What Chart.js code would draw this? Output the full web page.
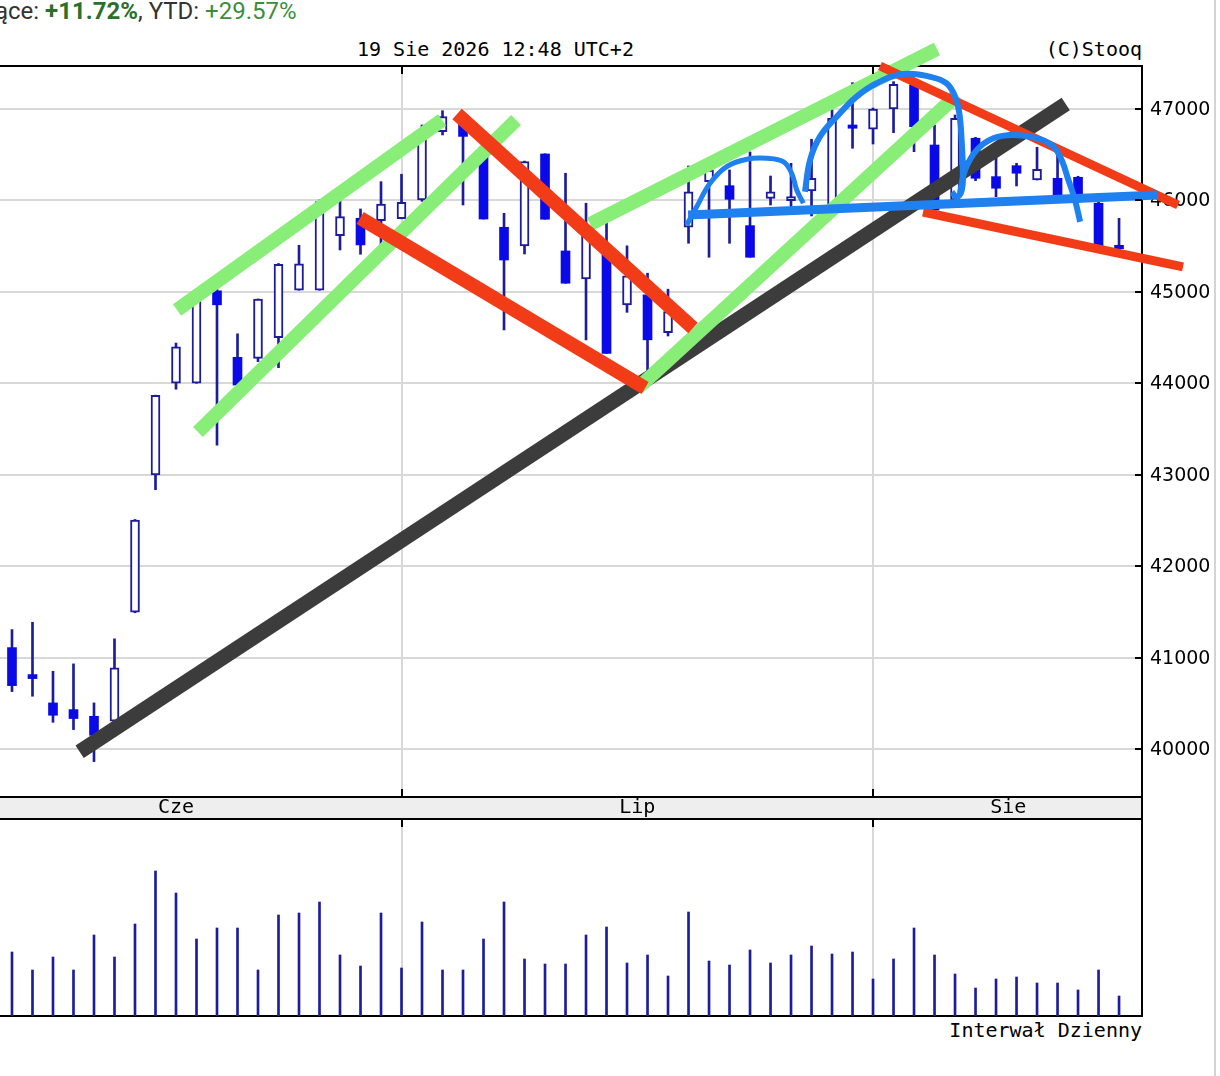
<!DOCTYPE html>
<html><head><meta charset="utf-8">
<script src="https://cdn.jsdelivr.net/npm/chart.js@4.4.1/dist/chart.umd.min.js"></script>
<style>
html,body{margin:0;padding:0;background:#fff;width:1220px;height:1076px;overflow:hidden;position:relative}
.t{position:absolute;white-space:nowrap}
.mono{font-family:"DejaVu Sans Mono",monospace;font-size:20px;color:#000;line-height:24px}
canvas{position:absolute;left:0}
</style></head><body>
<div class="t" style="left:-5px;top:-3px;font-family:Roboto,sans-serif;font-size:24px;line-height:28px;color:#333">ące: <b style="color:#2a6f2a">+11.72%</b>, YTD: <span style="color:#3d8d3d">+29.57%</span></div>
<div class="t mono" style="left:357px;top:37px">19 Sie 2026 12:48 UTC+2</div>
<div class="t mono" style="right:78px;top:37px">(C)Stooq</div>
<div class="t mono" style="right:78px;top:1018px">Interwał Dzienny</div>
<div style="position:absolute;left:1214px;top:0;width:2px;height:1076px;background:#d4d4d4"></div>
<canvas id="vol" width="1220" height="222" style="top:796px;z-index:1"></canvas>
<canvas id="price" width="1220" height="760" style="top:40px;z-index:2"></canvas>
<script>
// ---- data ----
const days = ['2026-06-03','2026-06-05','2026-06-08','2026-06-09','2026-06-10','2026-06-11','2026-06-12','2026-06-15','2026-06-16','2026-06-17','2026-06-18','2026-06-19','2026-06-22','2026-06-23','2026-06-24','2026-06-25','2026-06-26','2026-06-29','2026-06-30',
'2026-07-01','2026-07-02','2026-07-03','2026-07-06','2026-07-07','2026-07-08','2026-07-09','2026-07-10','2026-07-13','2026-07-14','2026-07-15','2026-07-16','2026-07-17','2026-07-20','2026-07-21','2026-07-22','2026-07-23','2026-07-24','2026-07-27','2026-07-28','2026-07-29','2026-07-30','2026-07-31',
'2026-08-03','2026-08-04','2026-08-05','2026-08-06','2026-08-07','2026-08-10','2026-08-11','2026-08-12','2026-08-13','2026-08-14','2026-08-17','2026-08-18','2026-08-19'];
const open  = [41109,40814,40504,40431,40358,40303,41497,42997,44000,44000,45011,44284,44273,44499,45018,45018,45614,45805,45777,45799,46005,46752,46850,46497,45706,45502,46508,45447,45140,45512,44858,44967,44553,45706,46205,46161,45724,46023,45997,46103,45950,46825,46778,47000,47262,46606,46005,46680,46260,46380,46223,46242,46253,45969,45509];
const high  = [41306,41386,40850,40931,40504,41205,42510,43870,44440,45020,45029,44541,44922,45310,45509,46005,45994,45906,46205,46286,46825,46981,46960,46550,45859,46430,46510,46297,45969,45767,45503,45204,45029,46377,46388,46333,46530,46267,46406,46669,46989,47288,47010,47299,47317,46825,46934,46690,46464,46406,46581,46595,46264,45990,45804];
const low   = [40628,40577,40292,40212,39862,40280,41490,42836,43935,44000,43323,43925,44237,44171,45018,45018,45458,45411,45458,45799,45990,46716,45950,45796,44583,45414,45794,45094,44474,44327,44776,44033,44517,45531,45378,45531,45378,45950,45930,45830,45950,46570,46617,46741,46533,45895,45990,46216,46041,46158,46223,46059,46027,45502,45458];
const close = [40693,40770,40369,40333,40150,40887,42503,43868,44398,44956,44858,43980,44922,45302,45306,45986,45822,45513,45960,45978,46716,46916,46700,45796,45348,46424,45794,45094,45654,44327,45175,44475,44784,46095,46333,46012,45378,46095,46041,46242,46898,46789,47000,47270,46806,45895,46898,46242,46133,46297,46340,46059,46027,45502,45472];
const volume = [64,46,59,46,81,59,92,145,123,77,88,88,46,101,103,114,61,50,103,48,94,46,46,77,114,57,52,52,81,89,53,61,40,104,55,51,66,53,61,70,62,64,37,57,88,61,42,28,37,39,33,33,26,46,20];
const priceTicks = [40000,41000,42000,43000,44000,45000,46000,47000];
const monthLabels = ['Cze','Lip','Sie'];
const monthLabelPos = [8.0, 30.5, 48.6];
const xRange = [-0.585, 55.12];
const yRange = [39475, 47470];
const volMax = 197;

// hand-drawn annotations: [trading-day index, price]
const trendBlack = [[3.3,39970],[51.4,47055]];
const green1 = [[8.05,44802],[20.98,46880]];
const green2 = [[9.07,43467],[24.59,46880]];
const green3 = [[28.2,45742],[45.12,47656]];
const green4 = [[30.54,43949],[46.1,47153]];
const red1 = [[16.98,45808],[30.88,43949]];
const red2 = [[21.71,46945],[33.22,44605]];
const red3 = [[42.34,47470],[56.88,45950]];
const red4 = [[44.44,45873],[57.12,45272]];
const neckline = [[32.98,45841],[55.9,46059]];
const leftShoulder = [[32.91,45731],[33.40,45931],[34.05,46187],[34.86,46369],[35.84,46450],[36.81,46461],[37.62,46424],[38.03,46297],[38.28,46114],[38.60,45969]];
const head = [[38.68,46095],[38.93,46442],[39.41,46697],[40.23,46916],[41.20,47135],[42.18,47281],[43.48,47383],[44.78,47353],[45.59,47281],[46.0,47135],[46.21,46953],[46.33,46625],[46.38,46333],[46.33,46114],[46.08,46038],[45.85,46092]];
const rightShoulder = [[46.24,46078],[46.49,46333],[47.06,46552],[47.87,46680],[48.84,46716],[49.99,46680],[50.80,46588],[51.20,46442],[51.53,46223],[51.85,46005],[52.10,45767]];

// ---- derived ----
const monthStartIdx = ['2026-07','2026-08'].map(m => days.findIndex(d => d.startsWith(m)));
const NAVY = '#1c1c9c', FILL = '#0a0ae8';
const isDown = i => close[i] < open[i];

const innerTicks = {
  id: 'innerTicks',
  afterDatasetsDraw(chart, args, opts) {
    const {ctx, chartArea: a, scales} = chart;
    ctx.save(); ctx.strokeStyle = '#000'; ctx.lineWidth = 2;
    monthStartIdx.forEach(v => {
      const px = Math.round(scales.x.getPixelForValue(v));
      (opts.edges || []).forEach(e => {
        const y0 = e === 'top' ? a.top : a.bottom;
        const y1 = e === 'top' ? a.top + 8 : a.bottom - 8;
        ctx.beginPath(); ctx.moveTo(px, y0); ctx.lineTo(px, y1); ctx.stroke();
      });
    });
    if (opts.yTicks) {
      scales.y.ticks.forEach(t => {
        const py = Math.round(scales.y.getPixelForValue(t.value));
        ctx.beginPath(); ctx.moveTo(a.right - 7, py); ctx.lineTo(a.right, py); ctx.stroke();
      });
    }
    ctx.restore();
  }
};
const monthBand = {
  id: 'monthBand',
  beforeDraw(chart) {
    const s = chart.scales.xTop, a = chart.chartArea, ctx = chart.ctx;
    ctx.save();
    ctx.fillStyle = '#eeeeee';
    ctx.fillRect(a.left, s.top, a.right - a.left, s.bottom - s.top);
    ctx.strokeStyle = '#000'; ctx.lineWidth = 2;
    ctx.beginPath(); ctx.moveTo(a.right, s.top); ctx.lineTo(a.right, s.bottom); ctx.stroke();
    ctx.restore();
  }
};

function ann(points, color, width, order, tension) {
  return {type: 'line', data: points.map(([x, y]) => ({x, y})), borderColor: color, borderWidth: width,
    pointRadius: 0, tension: tension || 0, fill: false, clip: false, order, xAxisID: 'x', yAxisID: 'y',
    borderCapStyle: 'butt', borderJoinStyle: 'round'};
}
const noPad = s => { s.paddingTop = 0; s.paddingBottom = 0; s.paddingLeft = 0; s.paddingRight = 0; };

const GREEN = '#88ee77', RED = '#f23c18', BLUE = '#1f80f0', BLACK = '#3c3c3c';

new Chart(document.getElementById('price'), {
  type: 'bar',
  data: {
    datasets: [
      {label: 'wick', data: low.map((l, i) => ({x: i, y: [l, high[i]]})), backgroundColor: NAVY, borderWidth: 0,
       barThickness: 2, grouped: false, order: 10, xAxisID: 'x', yAxisID: 'y'},
      {label: 'body', data: open.map((o, i) => ({x: i, y: [o, close[i]]})),
       backgroundColor: c => isDown(c.dataIndex) ? FILL : '#ffffff',
       borderColor: NAVY, borderWidth: c => isDown(c.dataIndex) ? 0 : 2, borderSkipped: false,
       barThickness: 9, grouped: false, order: 9, xAxisID: 'x', yAxisID: 'y'},
      ann(trendBlack, BLACK, 15, 6),
      ann(green1, GREEN, 14, 5), ann(green2, GREEN, 14, 5), ann(green3, GREEN, 14, 5), ann(green4, GREEN, 14, 5),
      ann(red1, RED, 14, 4), ann(red2, RED, 14, 4), ann(red3, RED, 9, 4), ann(red4, RED, 9, 4),
      ann(neckline, BLUE, 9, 2),
      ann(leftShoulder, BLUE, 5, 1, 0.4), ann(head, BLUE, 6, 1, 0.4), ann(rightShoulder, BLUE, 6, 1, 0.4)
    ]
  },
  options: {
    responsive: false, animation: false, events: [],
    layout: {padding: {top: 26, bottom: 3, left: 0, right: 0}},
    plugins: {legend: {display: false}, tooltip: {enabled: false}, innerTicks: {edges: ['top', 'bottom'], yTicks: true}},
    scales: {
      x: {type: 'linear', position: 'bottom', min: xRange[0], max: xRange[1], offset: false,
          afterBuildTicks: s => { s.ticks = monthStartIdx.map(v => ({value: v})); },
          afterFit: s => { s.height = 0; noPad(s); },
          ticks: {display: false}, grid: {color: '#d8d8d8', lineWidth: 2, drawTicks: false, offset: false},
          border: {display: true, color: '#000', width: 2}},
      xTop: {type: 'linear', axis: 'x', position: 'top', min: xRange[0], max: xRange[1], offset: false,
          afterFit: s => { s.height = 0; noPad(s); },
          ticks: {display: false}, grid: {display: false, drawTicks: false},
          border: {display: true, color: '#000', width: 2}},
      y: {type: 'linear', position: 'right', min: yRange[0], max: yRange[1],
          afterBuildTicks: s => { s.ticks = priceTicks.map(v => ({value: v})); },
          afterFit: s => { s.width = 78; noPad(s); },
          ticks: {callback: v => String(v), color: '#000', padding: 8, labelOffset: 1, font: {family: 'DejaVu Sans', size: 19}},
          grid: {color: '#d8d8d8', lineWidth: 2, drawTicks: false},
          border: {display: true, color: '#000', width: 2}}
    }
  },
  plugins: [innerTicks]
});

new Chart(document.getElementById('vol'), {
  type: 'bar',
  data: {
    datasets: [{label: 'volume', data: volume.map((v, i) => ({x: i, y: v})), backgroundColor: NAVY,
      borderWidth: 0, barThickness: 2, grouped: false, xAxisID: 'x', yAxisID: 'y'}]
  },
  options: {
    responsive: false, animation: false, events: [],
    layout: {padding: {top: 1, bottom: 2, left: 0, right: 0}},
    plugins: {legend: {display: false}, tooltip: {enabled: false}, innerTicks: {edges: ['top']}},
    scales: {
      x: {type: 'linear', position: 'bottom', min: xRange[0], max: xRange[1], offset: false,
          afterBuildTicks: s => { s.ticks = monthStartIdx.map(v => ({value: v})); },
          afterFit: s => { s.height = 0; noPad(s); },
          ticks: {display: false}, grid: {color: '#d8d8d8', lineWidth: 2, drawTicks: false, offset: false},
          border: {display: true, color: '#000', width: 2}},
      xTop: {type: 'linear', axis: 'x', position: 'top', min: xRange[0], max: xRange[1], offset: false,
          afterBuildTicks: s => { s.ticks = monthLabelPos.map(v => ({value: v})); },
          afterFit: s => { s.height = 22; noPad(s); },
          ticks: {callback: (v, i) => monthLabels[i], autoSkip: false, maxRotation: 0, color: '#000', padding: 1,
                  font: {family: 'DejaVu Sans Mono', size: 20, lineHeight: 1}},
          grid: {display: false, drawTicks: false},
          border: {display: true, color: '#000', width: 2}},
      y: {type: 'linear', position: 'right', min: 0, max: volMax,
          afterFit: s => { s.width = 78; noPad(s); },
          ticks: {display: false}, grid: {display: false, drawTicks: false},
          border: {display: true, color: '#000', width: 2}}
    }
  },
  plugins: [monthBand, innerTicks]
});
</script>
</body></html>
